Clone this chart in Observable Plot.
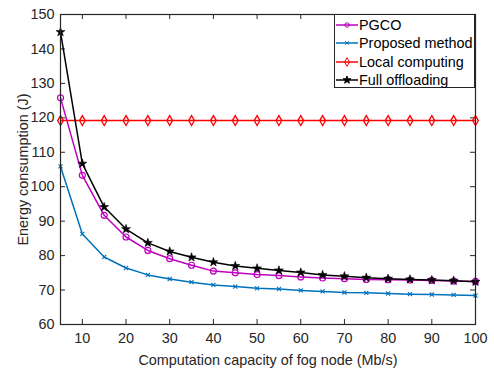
<!DOCTYPE html>
<html>
<head>
<meta charset="utf-8">
<script src="https://cdn.jsdelivr.net/npm/d3@7"></script>
<script src="https://cdn.jsdelivr.net/npm/@observablehq/plot@0.6"></script>
<style>
  body { margin: 0; background: #fff; }
  #wrap { position: relative; width: 494px; height: 369px; font-family: "Liberation Sans", Arial, sans-serif; }
  #legend { position: absolute; left: 334px; top: 14px; width: 141px; height: 74px; border: 1px solid #262626; background: #fff; box-sizing: border-box; padding-top: 1px; }
  .row { display: flex; align-items: center; height: 18.3px; font-size: 14.4px; color: #000; }
  .row svg { margin-left: 1px; margin-right: 1px; }
</style>
</head>
<body>
<div id="wrap"></div>
<script>
const capacity = [5,10,15,20,25,30,35,40,45,50,55,60,65,70,75,80,85,90,95,100];
const pgco     = [125.8,103.3,91.7,85.4,81.5,79.1,77.2,75.5,75.0,74.5,74.2,73.8,73.5,73.3,73.1,73.0,72.9,72.8,72.6,72.5];
const proposed = [105.9,86.3,79.6,76.4,74.4,73.2,72.3,71.5,71.0,70.5,70.3,69.9,69.6,69.3,69.2,69.0,68.8,68.7,68.6,68.4];
const local    = [119.2,119.2,119.2,119.2,119.2,119.2,119.2,119.2,119.2,119.2,119.2,119.2,119.2,119.2,119.2,119.2,119.2,119.2,119.2,119.2];
const full     = [144.9,106.7,94.1,87.7,83.7,81.2,79.5,78.1,77.0,76.3,75.7,75.1,74.4,74.0,73.6,73.3,73.1,72.9,72.7,72.4];
const xTicks = [10,20,30,40,50,60,70,80,90,100];
const yTicks = [60,70,80,90,100,110,120,130,140,150];

const seriesDefs = [
  {name: "PGCO", values: pgco, color: "#BF00BF", symbol: "circle", r: 3.0, fill: "none", sw: 1.2, lr: 2.2},
  {name: "Proposed method", values: proposed, color: "#0072BD", symbol: "times", r: 2.0, fill: "none", sw: 1.1, lr: 1.8},
  {name: "Local computing", values: local, color: "#FF0000", symbol: "diamond", r: 3.0, fill: "none", sw: 1.3, lr: 2.6},
  {name: "Full offloading", values: full, color: "#000000", symbol: "star", r: 2.8, fill: "#000000", sw: 0.6, lr: 2.4}
];

const marks = [];
for (const s of seriesDefs) {
  const rows = capacity.map((c, i) => ({x: c, y: s.values[i]}));
  marks.push(Plot.line(rows, {x: "x", y: "y", stroke: s.color, strokeWidth: 1.5}));
  marks.push(Plot.dot(rows, {x: "x", y: "y", stroke: s.color, fill: s.fill, symbol: s.symbol, r: s.r, strokeWidth: s.sw}));
}

const axisColor = "#262626";
const chart = Plot.plot({
  width: 494,
  height: 369,
  marginLeft: 60,
  marginRight: 19,
  marginTop: 14,
  marginBottom: 45,
  style: {fontFamily: "'Liberation Sans', Arial, sans-serif", fontSize: "14px", color: axisColor, background: "#fff"},
  x: {domain: [5, 100]},
  y: {domain: [60, 150]},
  marks: [
    Plot.axisX({ticks: xTicks, tickSize: 0, tickPadding: 8, label: "Computation capacity of fog node (Mb/s)", labelAnchor: "center", labelArrow: "none", labelOffset: 40, fontSize: 14.4, color: "#262626"}),
    Plot.axisY({ticks: yTicks, tickSize: 0, tickPadding: 6, label: "Energy consumption (J)", labelAnchor: "center", labelArrow: "none", labelOffset: 43, fontSize: 14.4, color: "#262626"}),
    Plot.tickX(xTicks, {x: d => d, stroke: axisColor, insetTop: 305}),
    Plot.tickX(xTicks, {x: d => d, stroke: axisColor, insetBottom: 305}),
    Plot.tickY(yTicks, {y: d => d, stroke: axisColor, insetRight: 410}),
    Plot.tickY(yTicks, {y: d => d, stroke: axisColor, insetLeft: 410}),
    ...marks,
    Plot.frame({stroke: axisColor, strokeWidth: 1.2})
  ]
});

const wrap = document.getElementById("wrap");
wrap.appendChild(chart);

const legend = document.createElement("div");
legend.id = "legend";
for (const s of seriesDefs) {
  const row = document.createElement("div");
  row.className = "row";
  const sym = d3.symbol(d3["symbol" + {circle: "Circle", times: "Times", diamond: "Diamond", star: "Star"}[s.symbol]], Math.PI * s.lr * s.lr)();
  row.innerHTML = `<svg width="22" height="10"><line x1="0" x2="22" y1="5" y2="5" stroke="${s.color}" stroke-width="1.5"/><path d="${sym}" transform="translate(11,5)" stroke="${s.color}" fill="${s.fill}" stroke-width="1"/></svg><span>${s.name}</span>`;
  legend.appendChild(row);
}
wrap.appendChild(legend);
</script>
</body>
</html>
